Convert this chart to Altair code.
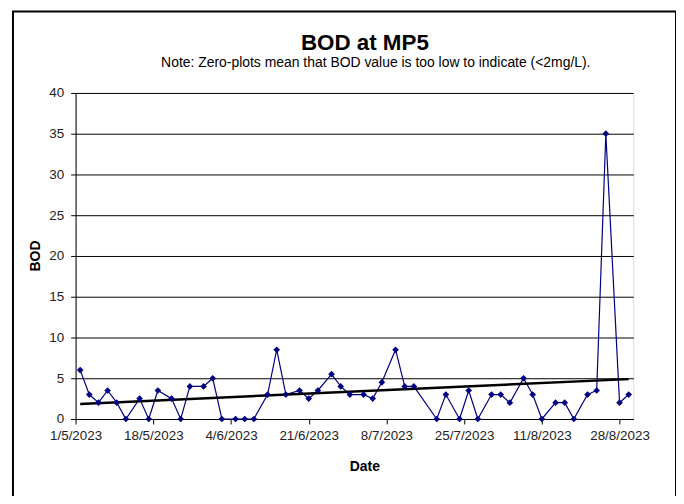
import altair as alt
import pandas as pd

# ---- data ----
dates = [
    "2023-05-02", "2023-05-04", "2023-05-06", "2023-05-08", "2023-05-10", "2023-05-12",
    "2023-05-15", "2023-05-17", "2023-05-19", "2023-05-22", "2023-05-24",
    "2023-05-26", "2023-05-29", "2023-05-31", "2023-06-02", "2023-06-05", "2023-06-07", "2023-06-09",
    "2023-06-12", "2023-06-14", "2023-06-16", "2023-06-19", "2023-06-21", "2023-06-23",
    "2023-06-26", "2023-06-28", "2023-06-30", "2023-07-03", "2023-07-05", "2023-07-07",
    "2023-07-10", "2023-07-12", "2023-07-14", "2023-07-19",
    "2023-07-21", "2023-07-24", "2023-07-26", "2023-07-28",
    "2023-07-31", "2023-08-02", "2023-08-04", "2023-08-07", "2023-08-09", "2023-08-11",
    "2023-08-14", "2023-08-16", "2023-08-18", "2023-08-21", "2023-08-23", "2023-08-25",
    "2023-08-28", "2023-08-30",
]
bod = [
    6, 3, 2, 3.5, 2, 0,
    2.5, 0, 3.5, 2.5, 0,
    4, 4, 5, 0, 0, 0, 0,
    3, 8.5, 3, 3.5, 2.5, 3.5,
    5.5, 4, 3, 3, 2.5, 4.5,
    8.5, 4, 4, 0,
    3, 0, 3.5, 0,
    3, 3, 2, 5, 3, 0,
    2, 2, 0, 3, 3.5, 35,
    2, 3,
]
tick_dates = [(2023, 5, 1), (2023, 5, 18), (2023, 6, 4), (2023, 6, 21),
              (2023, 7, 8), (2023, 7, 25), (2023, 8, 11), (2023, 8, 28)]
y_ticks = [0, 5, 10, 15, 20, 25, 30, 35, 40]
title_text = "BOD at MP5"
subtitle_text = "Note: Zero-plots mean that BOD value is too low to indicate (<2mg/L)."
x_title = "Date"
y_title = "BOD"

df = pd.DataFrame({"Date": pd.to_datetime(dates), "BOD": bod})

W, H = 561, 328
FONT = "Liberation Sans"
NAVY = "#000080"

x_enc = alt.X(
    "Date:T",
    scale=alt.Scale(domain=[alt.DateTime(year=2023, month=5, date=1),
                            alt.DateTime(year=2023, month=8, date=31)]),
    axis=alt.Axis(
        values=[alt.DateTime(year=y, month=m, date=d) for (y, m, d) in tick_dates],
        format="%-d/%-m/%Y", title=None, grid=False,
        domainColor="black", domainWidth=1, tickColor="black", tickSize=5,
        labelFont=FONT, labelFontSize=13.5, labelColor="#222", labelPadding=5,
        labelOverlap=False, labelFlush=False,
    ),
)
y_enc = alt.Y(
    "BOD:Q",
    scale=alt.Scale(domain=[0, 40], nice=False),
    axis=alt.Axis(
        values=y_ticks, title=None, grid=True, gridColor="black", gridWidth=1,
        domainColor="black", domainWidth=1, tickColor="black", tickSize=5,
        labelFont=FONT, labelFontSize=13.5, labelColor="#222", labelPadding=7,
    ),
)

base = alt.Chart(df)
line = base.mark_line(color=NAVY, strokeWidth=1.2).encode(x=x_enc, y=y_enc)
pts = base.mark_point(shape="diamond", filled=True, color=NAVY, size=45, opacity=1).encode(
    x="Date:T", y="BOD:Q")
trend = base.transform_regression("Date", "BOD").mark_line(
    color="black", strokeWidth=2.5).encode(x="Date:T", y="BOD:Q")

one = alt.Chart(pd.DataFrame({"k": [0]}))
frame = one.mark_rect(fillOpacity=0, stroke="black", strokeWidth=2).encode(
    x=alt.value(-63), x2=alt.value(604), y=alt.value(-82), y2=alt.value(430))

def label(txt, x, y, size, bold=False, angle=0):
    return one.mark_text(
        font=FONT, fontSize=size, fontWeight="bold" if bold else "normal",
        color="black", align="center", baseline="alphabetic", angle=angle,
    ).encode(x=alt.value(x), y=alt.value(y), text=alt.value(txt))

t1 = label(title_text, 291, -43, 22.5, bold=True)
t2 = label(subtitle_text, 302, -26, 14)
t3 = label(x_title, 291, 380, 14, bold=True)
t4 = label(y_title, -36, 164, 14, bold=True, angle=270)

chart = alt.layer(frame, line, trend, pts, t1, t2, t3, t4).properties(
    width=W, height=H,
    autosize=alt.AutoSizeParams(type="none"),
    padding={"left": 68, "top": 84, "right": 43, "bottom": 76},
).configure_view(stroke="#808080", strokeWidth=1).configure(background="white")

chart.save("out.html", embed_options={"renderer": "svg", "actions": False})
